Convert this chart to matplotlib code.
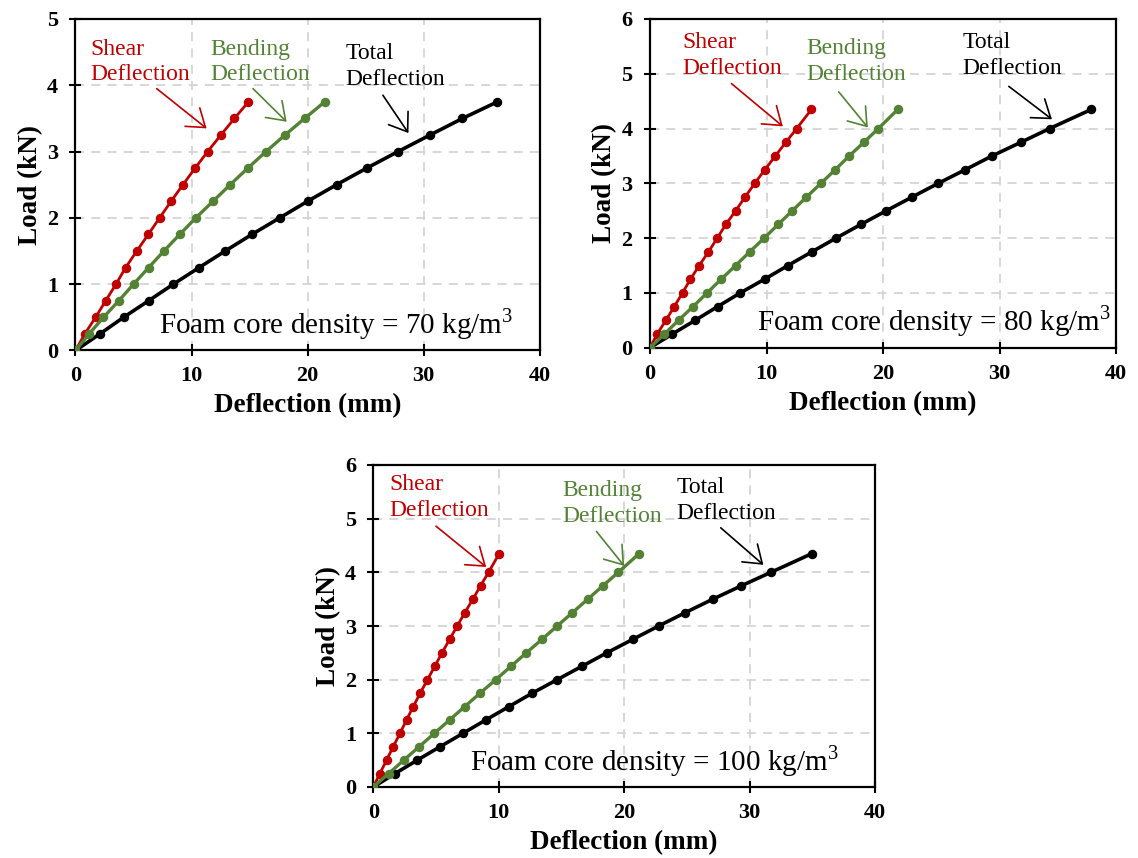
import matplotlib
matplotlib.use("Agg")
import matplotlib.pyplot as plt

plt.rcParams['font.family'] = ['Liberation Serif', 'DejaVu Serif']
plt.rcParams['mathtext.fontset'] = 'custom'
plt.rcParams['mathtext.rm'] = 'Liberation Serif'

# Applied load steps (kN)
loads_70 = [0, 0.25, 0.5, 0.75, 1.0, 1.25, 1.5, 1.75, 2.0, 2.25, 2.5, 2.75, 3.0, 3.25, 3.5, 3.75]
loads_80 = [0, 0.25, 0.5, 0.75, 1.0, 1.25, 1.5, 1.75, 2.0, 2.25, 2.5, 2.75, 3.0, 3.25, 3.5, 3.75, 4.0, 4.35]
loads_100 = [0, 0.25, 0.5, 0.75, 1.0, 1.25, 1.5, 1.75, 2.0, 2.25, 2.5, 2.75, 3.0, 3.25, 3.5, 3.75, 4.0, 4.35]

# Deflections (mm), foam core density 70 kg/m3
shear_70 = [0, 0.80, 1.73, 2.60, 3.49, 4.32, 5.28, 6.27, 7.25, 8.24, 9.26, 10.31, 11.39, 12.53, 13.70, 14.90]
bending_70 = [0, 1.17, 2.41, 3.73, 5.00, 6.30, 7.62, 8.98, 10.37, 11.85, 13.33, 14.85, 16.42, 18.06, 19.75, 21.48]
total_70 = [0, 2.10, 4.14, 6.30, 8.43, 10.65, 12.90, 15.20, 17.60, 20.00, 22.50, 25.10, 27.80, 30.56, 33.36, 36.36]

# Deflections (mm), foam core density 80 kg/m3
shear_80 = [0, 0.62, 1.36, 2.08, 2.79, 3.47, 4.22, 5.02, 5.77, 6.51, 7.35, 8.16, 8.99, 9.86, 10.76, 11.66, 12.59, 13.86]
bending_80 = [0, 1.24, 2.45, 3.69, 4.90, 6.11, 7.35, 8.56, 9.80, 11.00, 12.22, 13.43, 14.67, 15.90, 17.10, 18.36, 19.60, 21.27]
total_80 = [0, 1.92, 3.88, 5.80, 7.75, 9.83, 11.84, 13.89, 15.97, 18.10, 20.28, 22.50, 24.74, 27.07, 29.36, 31.84, 34.30, 37.89]

# Deflections (mm), foam core density 100 kg/m3
shear_100 = [0, 0.52, 1.06, 1.58, 2.13, 2.65, 3.19, 3.74, 4.32, 4.90, 5.48, 6.08, 6.69, 7.30, 7.94, 8.55, 9.19, 10.04]
bending_100 = [0, 1.22, 2.43, 3.65, 4.87, 6.08, 7.30, 8.52, 9.76, 10.98, 12.20, 13.44, 14.66, 15.88, 17.10, 18.31, 19.53, 21.20]
total_100 = [0, 1.73, 3.50, 5.32, 7.15, 8.97, 10.83, 12.68, 14.66, 16.64, 18.62, 20.68, 22.75, 24.88, 27.07, 29.35, 31.70, 34.98]

densities = ["70", "80", "100"]
x_ticks = [0, 10, 20, 30, 40]
y_ticks_70 = [0, 1, 2, 3, 4, 5]
y_ticks_hi = [0, 1, 2, 3, 4, 5, 6]

RED = "#C00000"
GREEN = "#548235"
BLACK = "#000000"

fig = plt.figure(figsize=(11.38, 8.58), dpi=100)

panels = [
    dict(rect=[75.5, 19, 539.5, 350.5], loads=loads_70, shear=shear_70, bending=bending_70,
         total=total_70, yticks=y_ticks_70, dens=densities[0],
         txt=dict(shear=(1.3, 4.35), bend=(11.6, 4.35), total=(23.3, 4.28), foam=(7.2, 0.26)),
         arr=dict(shear=((7.0, 3.95), (11.3, 3.35)), bend=((15.3, 3.95), (18.2, 3.45)),
                  total=((26.5, 3.85), (28.7, 3.28)))),
    dict(rect=[650, 19, 1116, 347.7], loads=loads_80, shear=shear_80, bending=bending_80,
         total=total_80, yticks=y_ticks_hi, dens=densities[1],
         txt=dict(shear=(2.8, 5.33), bend=(13.4, 5.22), total=(26.8, 5.34), foam=(9.2, 0.32)),
         arr=dict(shear=((7.0, 4.82), (11.4, 4.04)), bend=((16.2, 4.67), (18.7, 4.02)),
                  total=((30.8, 4.77), (34.5, 4.17)))),
    dict(rect=[373.3, 465, 875, 787], loads=loads_100, shear=shear_100, bending=bending_100,
         total=total_100, yticks=y_ticks_hi, dens=densities[2],
         txt=dict(shear=(1.3, 5.39), bend=(15.1, 5.29), total=(24.2, 5.34), foam=(7.7, 0.31)),
         arr=dict(shear=((5.0, 4.86), (9.0, 4.10)), bend=((17.8, 4.76), (20.0, 4.12)),
                  total=((27.7, 4.83), (31.1, 4.14)))),
]

W, H = 1138, 858
for p in panels:
    l, t, r, b = p["rect"]
    ax = fig.add_axes([l / W, 1 - b / H, (r - l) / W, (b - t) / H])

    ax.plot(p["total"], p["loads"], color=BLACK, lw=2.6, marker="o", ms=5.8, zorder=3)
    ax.plot(p["shear"], p["loads"], color=RED, lw=2.0, marker="o", ms=5.8, zorder=4)
    ax.plot(p["bending"], p["loads"], color=GREEN, lw=2.4, marker="o", ms=5.8, zorder=5)

    ax.set_xlim(0, 40)
    ax.set_ylim(0, p["yticks"][-1])
    ax.set_xticks(x_ticks)
    ax.set_yticks(p["yticks"])
    ax.grid(True, color="#D4D4D4", lw=1.3, linestyle=(0, (5, 4)))
    ax.set_axisbelow(True)
    for s in ax.spines.values():
        s.set_linewidth(1.6)
    ax.tick_params(direction="inout", length=9, width=1.5, labelsize=16)
    ax.tick_params(axis="x", pad=7)
    ax.tick_params(axis="y", pad=8)
    for lab in ax.get_xticklabels() + ax.get_yticklabels():
        lab.set_fontweight("bold")

    ax.set_xlabel("Deflection (mm)", fontsize=19.5, fontweight="bold", labelpad=5)
    ax.set_ylabel("Load (kN)", fontsize=19.5, fontweight="bold", labelpad=3)

    tx = p["txt"]
    ax.text(*tx["shear"], "Shear\nDeflection", color=RED, fontsize=17, ha="left", va="center",
            linespacing=1.3)
    ax.text(*tx["bend"], "Bending\nDeflection", color=GREEN, fontsize=17, ha="left", va="center",
            linespacing=1.3)
    ax.text(*tx["total"], "Total\nDeflection", color=BLACK, fontsize=17, ha="left", va="center",
            linespacing=1.3)
    ax.text(*tx["foam"], "Foam core density = " + p["dens"] + r" kg/m$^{3}$", fontsize=21,
            ha="left", va="baseline")

    for key, col in (("shear", RED), ("bend", GREEN), ("total", BLACK)):
        tail, head = p["arr"][key]
        ax.annotate("", xy=head, xytext=tail,
                    arrowprops=dict(arrowstyle="->,head_length=1.2,head_width=0.85",
                                    mutation_scale=10, color=col, lw=1.2,
                                    shrinkA=0, shrinkB=0))

fig.savefig("out.png", dpi=100)
